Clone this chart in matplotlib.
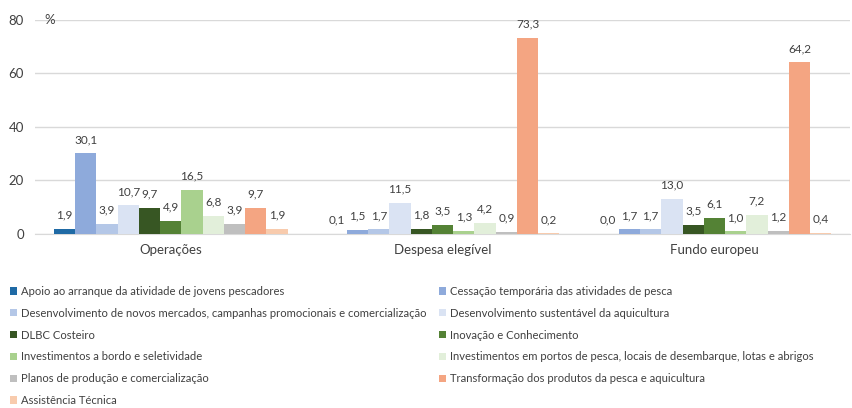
import numpy as np
import matplotlib.pyplot as plt
from matplotlib.patches import Patch

plt.rcParams['font.family'] = ['Lato', 'DejaVu Sans']

categorias = ["Operações", "Despesa elegível", "Fundo europeu"]

series = [
    "Apoio ao arranque da atividade de jovens pescadores",
    "Cessação temporária das atividades de pesca",
    "Desenvolvimento de novos mercados, campanhas promocionais e comercialização",
    "Desenvolvimento sustentável da aquicultura",
    "DLBC Costeiro",
    "Inovação e Conhecimento",
    "Investimentos a bordo e seletividade",
    "Investimentos em portos de pesca, locais de desembarque, lotas e abrigos",
    "Planos de produção e comercialização",
    "Transformação dos produtos da pesca e aquicultura",
    "Assistência Técnica",
]

operacoes = [1.9, 30.1, 3.9, 10.7, 9.7, 4.9, 16.5, 6.8, 3.9, 9.7, 1.9]
despesa = [0.1, 1.5, 1.7, 11.5, 1.8, 3.5, 1.3, 4.2, 0.9, 73.3, 0.2]
fundo = [0.0, 1.7, 1.7, 13.0, 3.5, 6.1, 1.0, 7.2, 1.2, 64.2, 0.4]

cores = ["#1f6aa5", "#8eaadb", "#b4c7e7", "#dae3f3", "#375623", "#548235",
         "#a9d18e", "#e2efda", "#bfbfbf", "#f4a582", "#f8cbad"]

valores = np.array([operacoes, despesa, fundo])  # (3 categorias, 11 séries)

fig = plt.figure(figsize=(8.52, 4.08), dpi=100)
ax = fig.add_axes([0.041, 0.4265, 0.957, 0.5245])

x = np.arange(len(categorias))
n = len(series)
largura = 0.86 / n

for i in range(n):
    pos = x - 0.86 / 2 + largura * (i + 0.5)
    ax.bar(pos, valores[:, i], width=largura, color=cores[i], zorder=3)
    for xp, v in zip(pos, valores[:, i]):
        ax.annotate(f"{v:.1f}".replace(".", ","), (xp, v), xytext=(0, 6),
                    textcoords="offset points", ha="center", va="bottom",
                    fontsize=8.5, color="#404040", annotation_clip=False)

ax.set_xlim(-0.5, 2.5)
ax.set_ylim(0, 80)
ax.set_yticks([0, 20, 40, 60, 80])
ax.set_xticks(x)
ax.set_xticklabels(categorias, fontsize=9.5, color="#404040")
ax.tick_params(axis="y", labelsize=9.5, labelcolor="#404040", length=0, pad=8)
ax.tick_params(axis="x", length=0, pad=7)
ax.grid(axis="y", color="#d9d9d9", linewidth=1, zorder=0)
for s in ["top", "right", "left"]:
    ax.spines[s].set_visible(False)
ax.spines["bottom"].set_color("#d9d9d9")
ax.text(0.012, 80, "%", transform=ax.get_yaxis_transform(), ha="left",
        va="center", fontsize=9.5, color="#404040")

handles = [Patch(facecolor=c) for c in cores]
col1 = [0, 2, 4, 6, 8, 10]
col2 = [1, 3, 5, 7, 9]
for idx, xa in [(col1, 0.012), (col2, 0.515)]:
    fig.legend([handles[i] for i in idx], [series[i] for i in idx],
               loc="upper left", bbox_to_anchor=(xa, 0.299), frameon=False,
               fontsize=8.1, labelcolor="#404040", handlelength=0.6,
               handleheight=0.6, handletextpad=0.4, labelspacing=0.96,
               borderaxespad=0, borderpad=0)

fig.savefig("out.png", dpi=100)
